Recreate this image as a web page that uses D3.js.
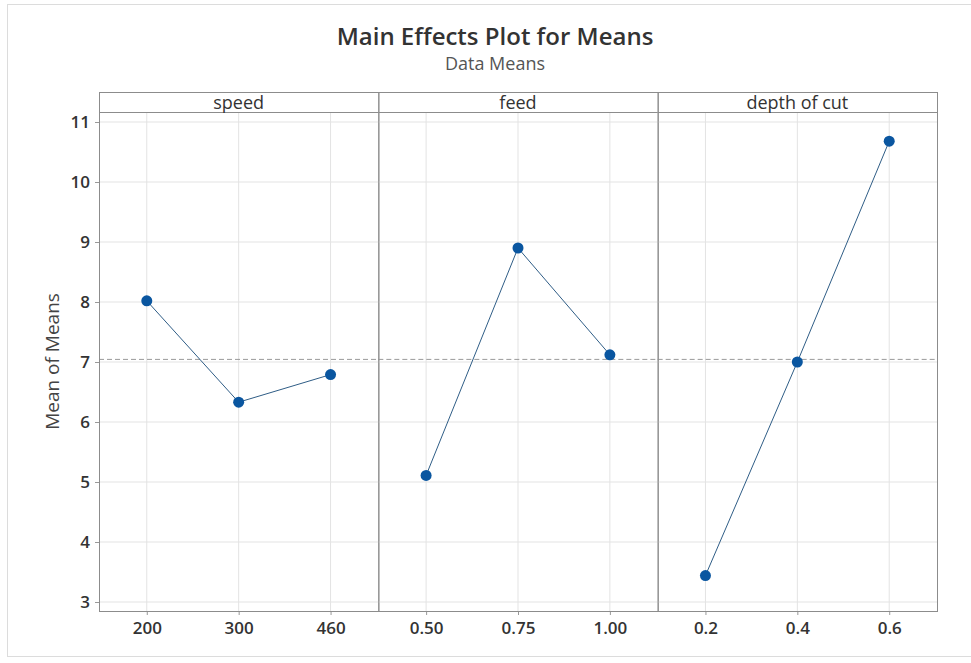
<!DOCTYPE html>
<html>
<head>
<meta charset="utf-8">
<script src="https://cdn.jsdelivr.net/npm/d3@7"></script>
<style>
  body { margin: 0; background: #fff; }
  svg text { font-family: "Open Sans", "Noto Sans", sans-serif; fill: #333; }
</style>
</head>
<body>
<svg id="chart" width="971" height="663"></svg>
<script>
// factor names and their level means
var factors = ["speed", "feed", "depth of cut"];
var speedLevels = ["200", "300", "460"];
var speedMeans = [8.02, 6.33, 6.79];
var feedLevels = ["0.50", "0.75", "1.00"];
var feedMeans = [5.11, 8.90, 7.12];
var depthLevels = ["0.2", "0.4", "0.6"];
var depthMeans = [3.44, 7.00, 10.68];
var yTicks = [3, 4, 5, 6, 7, 8, 9, 10, 11];

(function(d3) {
  var panels = [
    { name: factors[0], levels: speedLevels, means: speedMeans },
    { name: factors[1], levels: feedLevels, means: feedMeans },
    { name: factors[2], levels: depthLevels, means: depthMeans }
  ];

  var svg = d3.select('#chart');

  var pLeft = 99, pRight = 937,
      stripTop = 92, pTop = 112, pBottom = 611,
      panelW = (pRight - pLeft) / panels.length;

  // light frame round the whole graph
  svg.append('rect')
    .attr('x', 7.5).attr('y', 4.5)
    .attr('width', 980).attr('height', 652)
    .attr('fill', 'none')
    .attr('stroke', '#dcdcdc');

  svg.append('text')
    .attr('x', 495).attr('y', 45)
    .attr('text-anchor', 'middle')
    .style('font-size', '24px')
    .style('font-weight', 600)
    .text('Main Effects Plot for Means');

  svg.append('text')
    .attr('x', 495).attr('y', 70)
    .attr('text-anchor', 'middle')
    .style('font-size', '18px')
    .style('fill', '#555')
    .text('Data Means');

  var y = d3.scaleLinear()
    .domain([3 - 9 / 60, 11 + 10 / 60])
    .range([pBottom, pTop]);

  var overall = d3.mean(d3.merge(panels.map(function(p) { return p.means; })));

  // y axis label
  svg.append('text')
    .attr('transform', 'translate(59,' + ((pTop + pBottom) / 2) + ') rotate(-90)')
    .attr('text-anchor', 'middle')
    .style('font-size', '19px')
    .style('fill', '#444')
    .text('Mean of Means');

  // y axis on the first panel
  var yAxis = svg.append('g')
    .attr('transform', 'translate(' + pLeft + ',0)')
    .call(d3.axisLeft(y).tickValues(yTicks).tickSize(4).tickPadding(5));
  yAxis.select('.domain').remove();
  yAxis.selectAll('line').attr('stroke', '#999');
  yAxis.selectAll('text')
    .style('font-size', '17px')
    .style('font-weight', 600)
    .style('font-family', '"Open Sans", sans-serif')
    .attr('fill', '#222');

  var line = d3.line();

  panels.forEach(function(p, i) {
    var x0 = pLeft + i * panelW,
        x1 = x0 + panelW;

    var x = d3.scalePoint()
      .domain(p.levels)
      .range([x0, x1])
      .padding(0.52);

    var g = svg.append('g');

    // gridlines
    g.selectAll('.hgrid')
      .data(yTicks)
      .enter().append('line')
      .attr('x1', x0).attr('x2', x1)
      .attr('y1', function(d) { return y(d); })
      .attr('y2', function(d) { return y(d); })
      .attr('stroke', '#e3e3e3');

    g.selectAll('.vgrid')
      .data(p.levels)
      .enter().append('line')
      .attr('x1', function(d) { return x(d); })
      .attr('x2', function(d) { return x(d); })
      .attr('y1', pTop).attr('y2', pBottom)
      .attr('stroke', '#e3e3e3');

    // x axis
    var xAxis = g.append('g')
      .attr('transform', 'translate(0,' + pBottom + ')')
      .call(d3.axisBottom(x).tickSize(4).tickPadding(7));
    xAxis.select('.domain').remove();
    xAxis.selectAll('line').attr('stroke', '#999');
    xAxis.selectAll('text')
      .style('font-size', '17px')
      .style('font-weight', 600)
      .style('font-family', '"Open Sans", sans-serif')
      .attr('fill', '#222');

    // reference line at the overall mean
    g.append('line')
      .attr('x1', x0).attr('x2', x1)
      .attr('y1', y(overall)).attr('y2', y(overall))
      .attr('stroke', '#9a9a9a')
      .attr('stroke-dasharray', '5,3');

    var pts = p.levels.map(function(l, j) { return [x(l), y(p.means[j])]; });

    g.append('path')
      .attr('d', line(pts))
      .attr('fill', 'none')
      .attr('stroke', '#2f5d86')
      .attr('stroke-width', 1);

    g.selectAll('circle')
      .data(pts)
      .enter().append('circle')
      .attr('cx', function(d) { return d[0]; })
      .attr('cy', function(d) { return d[1]; })
      .attr('r', 5.5)
      .attr('fill', '#0a56a0');

    // panel frame and strip
    g.append('rect')
      .attr('x', x0 + 0.5).attr('y', stripTop + 0.5)
      .attr('width', panelW).attr('height', pBottom - stripTop)
      .attr('fill', 'none')
      .attr('stroke', '#8c8c8c');

    g.append('line')
      .attr('x1', x0).attr('x2', x1)
      .attr('y1', pTop + 0.5).attr('y2', pTop + 0.5)
      .attr('stroke', '#8c8c8c');

    g.append('text')
      .attr('x', (x0 + x1) / 2)
      .attr('y', pTop - 3)
      .attr('text-anchor', 'middle')
      .style('font-size', '18px')
      .style('font-weight', 500)
      .text(p.name);
  });
})(d3);
</script>
</body>
</html>
